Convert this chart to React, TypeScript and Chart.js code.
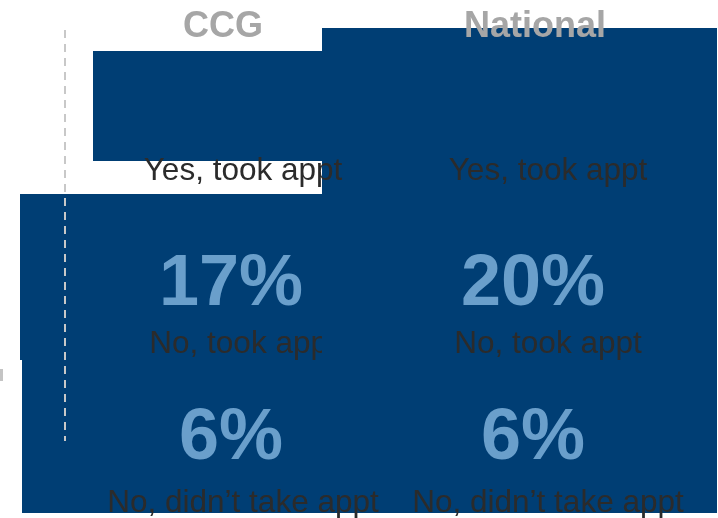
import { useEffect, useRef } from "react";
import { Chart, registerables } from "chart.js";

Chart.register(...registerables);

// ---- data ----
const CATEGORIES = ["CCG", "National"];
const RESPONSES = ["Yes, took appt", "No, took appt", "No, didn\u2019t take appt"];
const NO_TOOK_APPT = [17, 20];
const NO_DIDNT_TAKE = [6, 6];

// ---- layout / styles (not data) ----
const W = 718;
const H = 518;
const PANEL_BLUE = "#003e74";
const VALUE_BLUE = "#6a9fcb";
const LABEL_DARK = "#2b2b2b";
const HEADER_GREY = "#a6a6a6";
const FONT = "'Liberation Sans', Arial, Helvetica, sans-serif";

const PANELS = [
  { x0: 93, y0: 51, x1: 322, y1: 161 },
  { x0: 322, y0: 28, x1: 717, y1: 513 },
  { x0: 20, y0: 194, x1: 322, y1: 360 },
  { x0: 22, y0: 360, x1: 322, y1: 513 },
];
const HEADER_BASELINE = 37;
const ROW_LABEL_BASELINES = [180, 353, 512];
const ROW_VALUE_BASELINES = [null, 305, 459];
const VALUE_DX = [8, -2];
const LABEL_DX = [20, 13];
const CLIP = { row: 1, col: 0, right: 322 };

const infographic = {
  id: "infographic",
  afterDraw(chart: any) {
    const ctx: CanvasRenderingContext2D = chart.ctx;
    const xs = chart.scales.x;
    ctx.save();

    // panels
    ctx.fillStyle = PANEL_BLUE;
    PANELS.forEach((p) => ctx.fillRect(p.x0, p.y0, p.x1 - p.x0, p.y1 - p.y0));

    // small grey fragment at left edge
    ctx.fillStyle = "#c4c4c4";
    ctx.fillRect(0, 369, 3, 12);

    // dashed divider
    ctx.strokeStyle = "#c8c8c8";
    ctx.lineWidth = 2;
    ctx.setLineDash([8, 6]);
    ctx.beginPath();
    ctx.moveTo(65, 30);
    ctx.lineTo(65, 441);
    ctx.stroke();
    ctx.setLineDash([]);

    ctx.textAlign = "center";
    ctx.textBaseline = "alphabetic";

    const rowsValues: (number[] | null)[] = [
      null,
      chart.data.datasets[0].data as number[],
      chart.data.datasets[1].data as number[],
    ];

    CATEGORIES.forEach((cat, ci) => {
      const cx = xs.getPixelForValue(ci);
      // header
      ctx.font = `bold 36px ${FONT}`;
      ctx.fillStyle = HEADER_GREY;
      ctx.fillText(cat, cx, HEADER_BASELINE);

      RESPONSES.forEach((resp, ri) => {
        const vals = rowsValues[ri];
        const vb = ROW_VALUE_BASELINES[ri];
        if (vals && vb !== null) {
          ctx.font = `bold 72px ${FONT}`;
          ctx.fillStyle = VALUE_BLUE;
          ctx.fillText(`${vals[ci]}%`, cx + VALUE_DX[ci], vb);
        }
        ctx.font = `31.5px ${FONT}`;
        ctx.fillStyle = LABEL_DARK;
        if (CLIP.row === ri && CLIP.col === ci) {
          ctx.save();
          ctx.beginPath();
          ctx.rect(0, 0, CLIP.right, H);
          ctx.clip();
          ctx.fillText(resp, cx + LABEL_DX[ci], ROW_LABEL_BASELINES[ri]);
          ctx.restore();
        } else {
          ctx.fillText(resp, cx + LABEL_DX[ci], ROW_LABEL_BASELINES[ri]);
        }
      });
    });

    ctx.restore();
  },
};

export default function App() {
  const ref = useRef<HTMLCanvasElement>(null);
  useEffect(() => {
    if (!ref.current) return;
    const chart = new Chart(ref.current, {
      type: "bar",
      data: {
        labels: CATEGORIES,
        datasets: [
          { label: RESPONSES[1], data: NO_TOOK_APPT, backgroundColor: "transparent" },
          { label: RESPONSES[2], data: NO_DIDNT_TAKE, backgroundColor: "transparent" },
        ],
      },
      options: {
        responsive: false,
        maintainAspectRatio: false,
        devicePixelRatio: 1,
        animation: false,
        layout: { padding: { left: 67, right: 27, top: 0, bottom: 0 } },
        plugins: { legend: { display: false }, tooltip: { enabled: false } },
        scales: {
          x: { display: false },
          y: { display: false, min: 0, max: 100 },
        },
      },
      plugins: [infographic],
    });
    return () => chart.destroy();
  }, []);
  return (
    <div style={{ position: "absolute", left: 0, top: 0, width: W, height: H }}>
      <canvas ref={ref} width={W} height={H} style={{ display: "block" }} />
    </div>
  );
}
